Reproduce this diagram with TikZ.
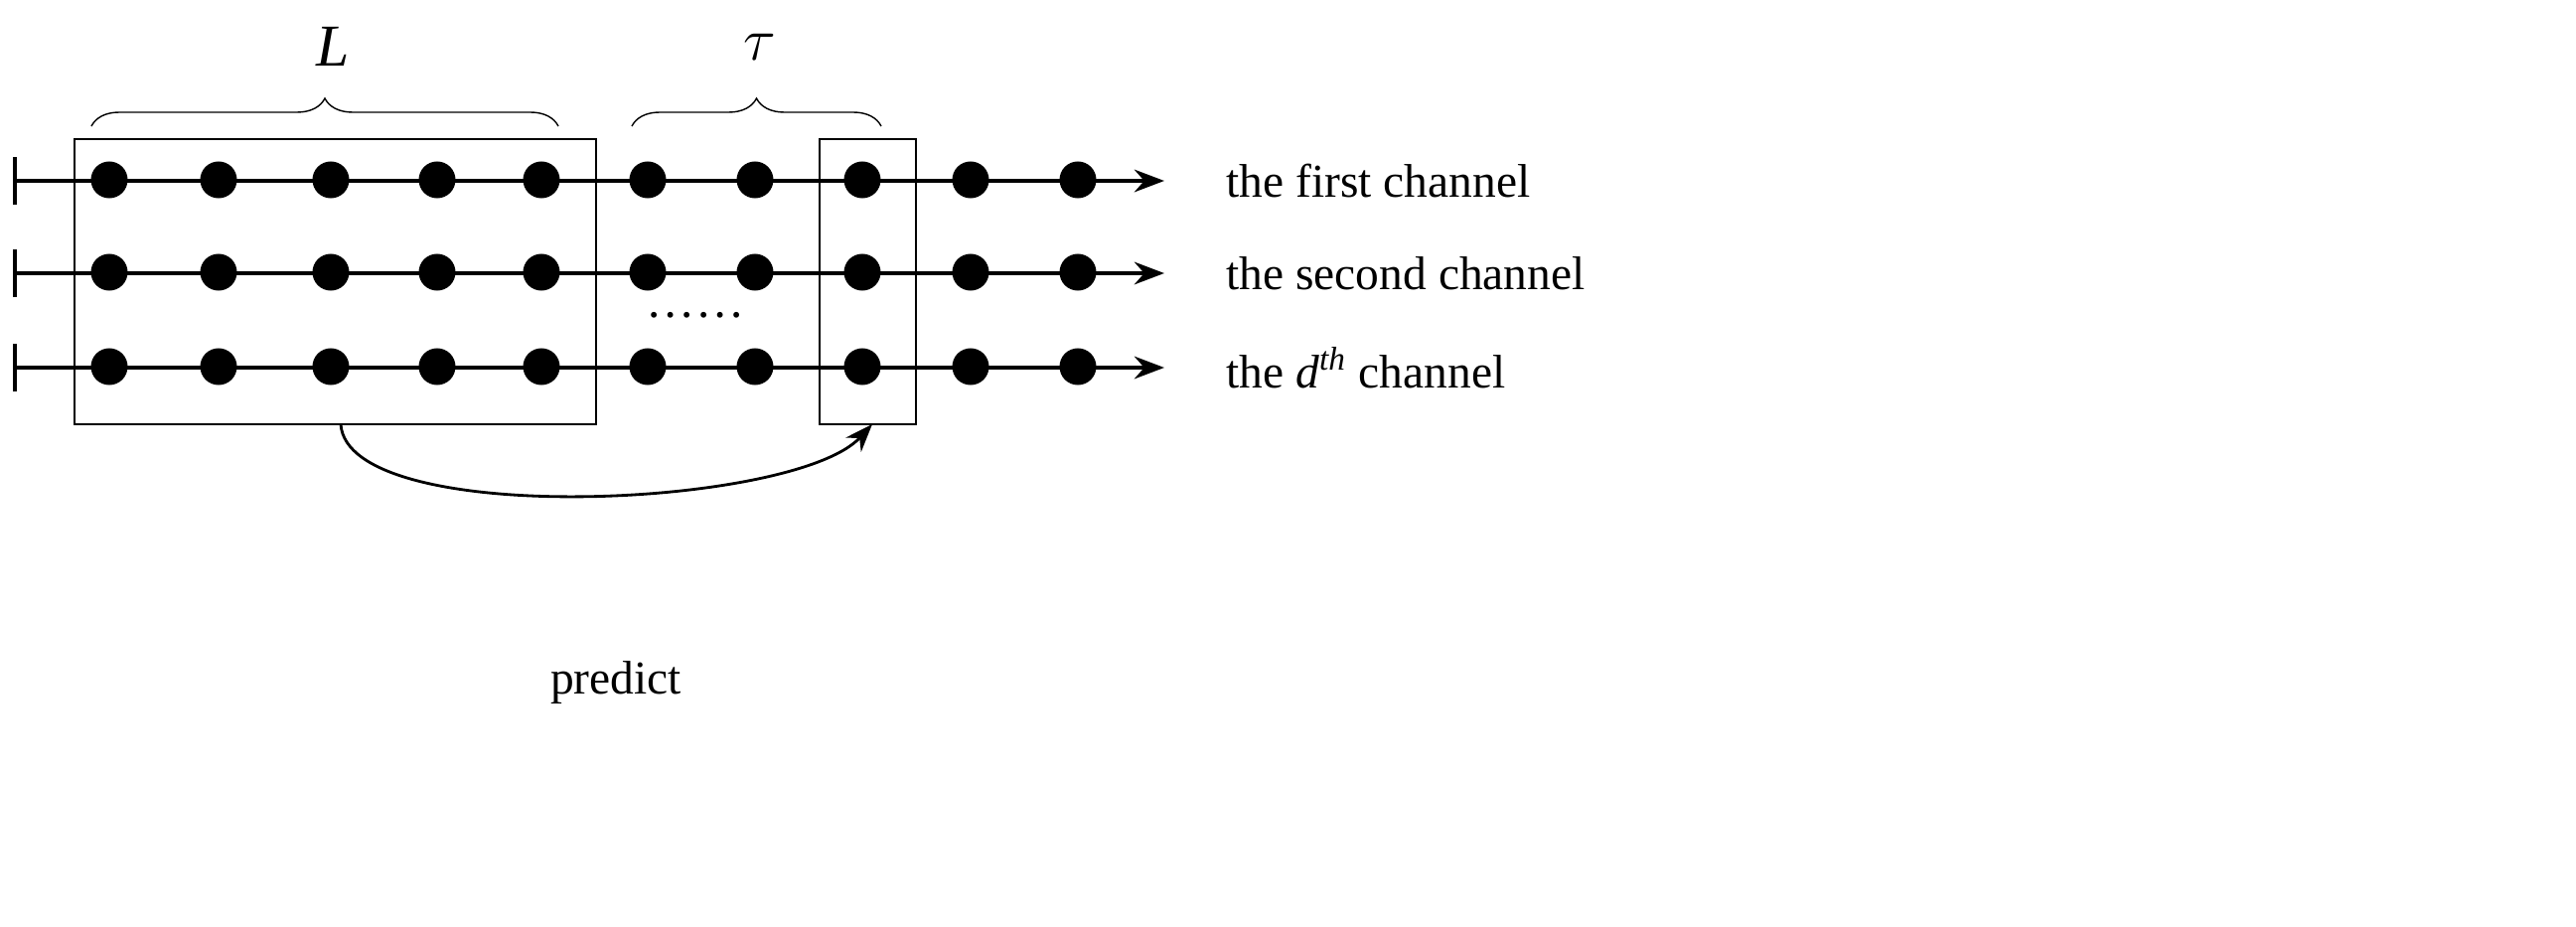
\documentclass[tikz,border=0pt]{standalone}
\usepackage{fontspec}
\setmainfont{Liberation Serif}
\usetikzlibrary{decorations.pathreplacing,arrows.meta}

\tikzset{
    dot/.style={circle, fill=black, inner sep=0pt, minimum size=0.37cm},
    lbl/.style={anchor=west, font=\fontsize{13.5}{16}\selectfont},
    brc/.style={decorate, decoration={brace, amplitude=0.28cm}, thin},
}

\begin{document}
\begin{tikzpicture}[x=0.01cm, y=0.01cm]
    \useasboundingbox (0,0) rectangle (2593,932);

    % rows: time axis of each channel
    \foreach \r/\y in {1/750, 2/657, 3/562} {
        \coordinate (s\r) at (15,\y);
        \coordinate (e\r) at (1172,\y);
        \draw[line width=1.2pt] (15,\y-24) -- (15,\y+24);
        \draw[line width=1.2pt, -{Stealth[length=0.3cm]}] (s\r) -- (e\r);
        \foreach \i/\x in {1/110, 2/220, 3/333, 4/440, 5/545, 6/652, 7/760, 8/868, 9/977, 10/1085}
            \node[dot] (d\r\i) at (\x,\y+1) {};
    }

    % windows
    \draw[line width=0.8pt] (75,505) rectangle (600,792);
    \node (box1) at (337.5,648.5) [minimum width=5.25cm, minimum height=2.87cm] {};
    \draw[line width=0.8pt] (825,505) rectangle (922,792);
    \node (box2) at (873.5,648.5) [minimum width=0.97cm, minimum height=2.87cm] {};

    \node[lbl] (c1) at (1222,750) {the first channel};
    \node[lbl] (c2) at (1222,657) {the second channel};
    \node[lbl] (c3) at (1222,562) {the \textit{d}\textsuperscript{\textit{th}} channel};

    \node[font=\fontsize{14}{16}\selectfont] (gap) at (700,615) {\textellipsis\textellipsis};

    % braces
    \draw[brc] (92,805) -- (562,805);
    \draw[brc] (636,805) -- (887,805);
    \node[font=\fontsize{17}{18}\selectfont\itshape] (win) at (335,885) {L};
    \node[font=\fontsize{19}{20}\selectfont] (hor) at (765,885) {$\tau$};

    % prediction
    \coordinate (from) at (343,505);
    \coordinate (to) at (878,505);
    \draw[line width=0.8pt, -{Stealth[length=0.28cm]}] (from) .. controls (350,400) and (800,420) .. (to);
    \node[font=\fontsize{13.5}{16}\selectfont] (pred) at (620,245) {predict};
\end{tikzpicture}
\end{document}
